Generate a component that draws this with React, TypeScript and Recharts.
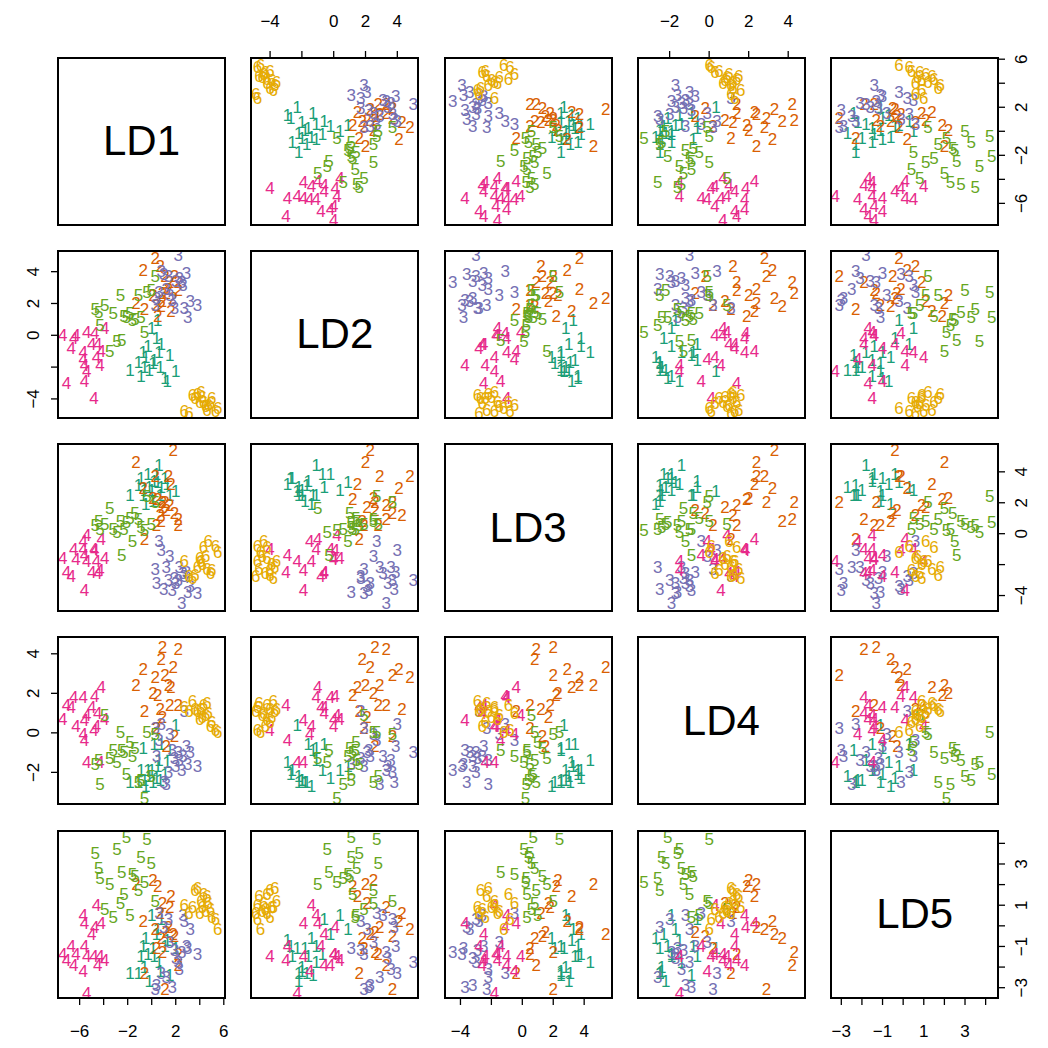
import React from "react";
import { ScatterChart, Scatter, XAxis, YAxis } from "recharts";

const FONT = "'Liberation Sans', Arial, Helvetica, sans-serif";

const varNames = ["LD1", "LD2", "LD3", "LD4", "LD5"];
const groupLabels = ["1", "2", "3", "4", "5", "6"];
const groupColors = ["#1B9E77", "#D95F02", "#7570B3", "#E7298A", "#66A61E", "#E6AB02"];

// each row: LD1, LD2, LD3, LD4, LD5
const group1 = [
  [2.0, -2.3, 2.7, 0.35, -1.1],
  [1.5, -1.3, 2.5, -0.9, -2.4],
  [1.3, -2.9, 3.2, -1.5, -0.7],
  [1.1, -2.7, 3.6, -2.1, -1.0],
  [0.8, -0.6, 3.0, -0.6, 0.3],
  [0.7, -2.0, 2.5, -2.4, -2.2],
  [0.6, -1.1, 4.4, -1.4, -1.8],
  [0.4, -0.2, 3.8, -2.3, -0.4],
  [0.2, -1.6, 3.4, -0.6, -1.5],
  [0.1, -1.8, 2.1, -2.5, -1.1],
  [0.0, 0.4, 2.8, -1.9, 0.5],
  [-0.2, -2.2, 3.0, -2.2, -2.7],
  [-0.3, -0.7, 3.8, -1.9, -1.4],
  [-0.5, -1.4, 1.9, -2.7, -0.6],
  [-0.6, -2.0, 2.8, -2.4, -2.0],
  [-0.7, -1.1, 2.5, -0.8, -1.0],
  [-0.9, -2.6, 3.6, -1.9, -1.5],
  [-1.1, -1.7, 3.1, -2.5, -2.3],
  [-1.8, -2.2, 2.5, -2.5, -2.3],
  [0.5, 0.9, 3.3, -1.7, -0.2],
];

const group2 = [
  [0.9, 2.6, 2.0, 4.3, -1.3],
  [2.2, 3.3, 0.9, 4.2, -1.9],
  [0.8, 1.8, 0.8, 3.7, -0.6],
  [1.8, 2.3, 5.4, 3.3, -0.4],
  [-0.7, 4.1, 2.9, 3.2, 0.2],
  [0.3, 4.8, 3.7, 2.8, -0.2],
  [1.1, 3.7, 2.0, 2.9, -3.1],
  [1.4, 2.9, 3.7, 2.4, -0.1],
  [-1.3, 2.0, 4.6, 2.4, 2.0],
  [1.6, 1.5, 3.2, 2.3, 1.4],
  [0.1, 2.5, 2.3, 2.0, 2.2],
  [0.5, 1.2, 2.2, 1.9, 1.9],
  [1.5, 3.3, 1.8, 1.4, 0.9],
  [0.7, 4.3, 1.2, 1.2, 0.6],
  [0.9, 2.1, 1.7, 0.8, 1.1],
  [2.2, 2.8, 0.5, 1.4, -1.4],
  [0.4, 1.9, 0.5, 0.2, -1.1],
  [1.9, 3.7, 1.3, -0.2, -0.5],
  [-0.6, 1.6, -0.4, 1.1, -2.3],
  [1.2, 2.6, 1.5, -0.7, -0.3],
];

const group3 = [
  [3.8, 1.9, -3.9, -1.7, -1.4],
  [3.0, 1.1, -3.8, -1.6, -1.1],
  [2.7, 1.7, -2.8, 1.1, 0.2],
  [2.2, 5.0, -3.0, -1.0, -1.8],
  [2.3, 3.6, -2.2, -1.4, -2.1],
  [2.5, 3.3, -4.5, -1.9, -1.3],
  [2.6, 3.1, -2.6, -1.2, 0.5],
  [1.7, 2.2, -3.7, -0.9, -3.0],
  [1.5, 2.5, -1.5, -0.1, -0.8],
  [1.2, 2.9, -2.2, -2.6, -2.5],
  [2.0, 3.4, -3.2, -1.7, -1.6],
  [1.0, 3.8, -3.6, -2.5, -0.1],
  [0.8, 4.0, -1.1, 0.4, -2.3],
  [0.6, 2.7, -0.5, -0.4, 0.6],
  [0.3, 1.9, -2.3, 0.2, -3.1],
  [0.4, 2.3, -3.2, -1.2, -2.9],
  [1.4, 3.7, -3.0, -2.0, 0.3],
  [2.9, 3.9, -2.5, -0.7, -1.0],
  [1.9, 1.7, -2.9, -1.3, -1.2],
  [3.2, 2.1, -3.4, -1.0, -0.2],
];

const group4 = [
  [-7.4, 0.0, -1.6, 0.7, -1.4],
  [-7.1, -3.0, -2.5, 1.4, -1.7],
  [-6.7, -0.8, -2.8, 1.3, -1.0],
  [-6.5, -0.2, -1.0, 1.8, -1.9],
  [-6.3, 0.0, -1.7, 0.3, -1.4],
  [-5.7, -1.1, -1.0, 1.8, 0.5],
  [-5.7, -1.5, -0.5, -0.1, -2.2],
  [-5.6, -1.9, -3.7, 0.6, 0.1],
  [-5.6, -2.9, -1.4, -0.4, -1.0],
  [-5.4, 0.2, -0.1, 0.9, -1.5],
  [-5.4, -2.3, -1.8, -1.5, -3.3],
  [-5.0, -0.6, -2.5, 1.3, -0.4],
  [-4.8, -4.0, -1.0, 0.1, -1.5],
  [-4.75, 0.1, -1.1, 1.85, -0.1],
  [-4.6, -1.4, -1.8, 0.3, 1.0],
  [-4.5, -0.6, -2.6, 1.0, -1.9],
  [-4.3, -1.9, -2.4, -1.5, -1.5],
  [-4.2, -1.0, -0.4, 2.3, 0.1],
  [-3.9, 0.4, -1.6, 0.7, -1.7],
];

const group5 = [
  [0.3, 3.7, 2.0, -0.1, 1.2],
  [-0.03, 2.8, 0.6, -2.2, 3.0],
  [-0.4, 2.7, 2.4, 0.0, 4.2],
  [-0.6, 0.2, 0.2, -3.3, 2.1],
  [-0.9, 1.1, 0.4, -2.4, 3.3],
  [-1.1, 2.5, 0.9, -2.5, 1.7],
  [-1.4, 1.0, 1.3, -0.8, 2.4],
  [-1.6, 0.9, -0.5, -1.2, 2.5],
  [-1.8, 1.4, 1.0, -0.5, 0.5],
  [-2.1, 1.1, 0.7, -2.1, 4.3],
  [-2.3, 1.2, 0.3, -1.0, 1.5],
  [-2.5, -0.3, -1.4, -0.9, 2.6],
  [-2.6, 2.5, 0.8, 0.0, 1.1],
  [-2.9, -0.4, 0.1, -1.5, 3.7],
  [-3.2, 1.35, 0.3, -0.9, 0.4],
  [-3.5, -1.0, 1.6, -1.3, 2.0],
  [-3.9, 1.9, 0.6, 0.9, 0.8],
  [-4.3, 0.6, 0.25, -2.6, 2.3],
  [-4.4, 1.45, 0.8, -1.4, 2.8],
  [-4.7, 1.6, 0.5, -1.6, 3.5],
];

const group6 = [
  [5.5, -4.6, -1.2, 0.0, -0.2],
  [5.3, -4.8, -0.8, 0.1, 0.3],
  [5.0, -4.0, -2.4, 0.5, 0.4],
  [4.9, -4.3, -2.6, 0.3, 0.8],
  [4.7, -4.4, -0.5, 1.0, 1.1],
  [4.6, -4.7, -2.3, 1.5, 1.4],
  [4.5, -4.5, -1.5, 0.9, 0.7],
  [4.3, -4.2, -0.9, 1.4, 1.5],
  [4.2, -3.9, -2.0, 0.8, 0.9],
  [4.1, -3.6, -1.8, 1.2, 1.2],
  [4.0, -4.2, -1.6, 0.7, 0.6],
  [3.8, -3.7, -2.2, 1.1, 1.8],
  [3.6, -4.0, -2.7, 1.2, 1.7],
  [3.4, -3.8, -2.9, 1.6, 0.9],
  [3.1, -4.9, -2.8, 1.1, 0.6],
  [2.7, -4.8, -1.8, 1.3, 1.0],
];

const domains = [
  [-7.8, 6.1],
  [-5.2, 5.3],
  [-5.0, 5.8],
  [-3.6, 4.85],
  [-3.5, 4.6],
];
const tickValues = [
  [-6, -4, -2, 0, 2, 4, 6],
  [-4, -2, 0, 2, 4],
  [-4, -2, 0, 2, 4],
  [-2, 0, 2, 4],
  [-3, -2, -1, 0, 1, 2, 3, 4],
];
const tickLabels = [
  [-6, -2, 2, 6],
  [-4, 0, 2, 4],
  [-4, 0, 2, 4],
  [-2, 0, 2, 4],
  [-3, -1, 1, 3],
];

const groups = [group1, group2, group3, group4, group5, group6];
const groupData = groups.map((g) =>
  g.map((r) => ({ LD1: r[0], LD2: r[1], LD3: r[2], LD4: r[3], LD5: r[4] }))
);

const N = 5;
const X0 = 58;
const Y0 = 57.5;
const STEP = 193.3;
const S = 167;
const PAD = 60;
const AX = 40;

const fmt = (v: number) => (v < 0 ? "\u2212" + Math.abs(v) : String(v));

const renderTick = (side: string, labels: number[]) => (props: any) => {
  const { x, y, payload } = props;
  const v = payload.value;
  if (!labels.includes(v)) return <g />;
  const common = {
    fontSize: 17,
    fill: "#000",
    fontFamily: FONT,
    textAnchor: "middle" as const,
    dominantBaseline: "central" as const,
  };
  if (side === "top")
    return (
      <text x={x} y={PAD - 37} {...common}>
        {fmt(v)}
      </text>
    );
  if (side === "bottom")
    return (
      <text x={x} y={PAD + S + 33} {...common}>
        {fmt(v)}
      </text>
    );
  const tx = side === "left" ? PAD - 24 : PAD + S + 24;
  return (
    <text x={tx} y={y} transform={`rotate(-90 ${tx} ${y})`} {...common}>
      {fmt(v)}
    </text>
  );
};

const Panel = ({ i, j }: { i: number; j: number }) => {
  const left = X0 + j * STEP;
  const top = Y0 + i * STEP;
  const showTop = i === 0 && j % 2 === 1;
  const showBottom = i === N - 1 && j % 2 === 0;
  const showLeft = j === 0 && i % 2 === 1;
  const showRight = j === N - 1 && i % 2 === 0;
  const margin = {
    top: showTop ? PAD - AX : PAD,
    bottom: showBottom ? PAD - AX : PAD,
    left: showLeft ? PAD - AX : PAD,
    right: showRight ? PAD - AX : PAD,
  };
  const diag = i === j;

  return (
    <>
      <div style={{ position: "absolute", left: left - PAD, top: top - PAD }}>
        <ScatterChart width={S + 2 * PAD} height={S + 2 * PAD} margin={margin}>
          <XAxis
            type="number"
            dataKey={varNames[j]}
            domain={domains[j]}
            allowDataOverflow
            ticks={tickValues[j]}
            interval={0}
            hide={!(showTop || showBottom)}
            orientation={showTop ? "top" : "bottom"}
            height={AX}
            axisLine={false}
            tickLine={{ stroke: "#000", strokeWidth: 1.3 }}
            tickSize={7}
            tick={renderTick(showTop ? "top" : "bottom", tickLabels[j])}
          />
          <YAxis
            type="number"
            dataKey={varNames[i]}
            domain={domains[i]}
            allowDataOverflow
            ticks={tickValues[i]}
            interval={0}
            hide={!(showLeft || showRight)}
            orientation={showRight ? "right" : "left"}
            width={AX}
            axisLine={false}
            tickLine={{ stroke: "#000", strokeWidth: 1.3 }}
            tickSize={7}
            tick={renderTick(showRight ? "right" : "left", tickLabels[i])}
          />
          {!diag &&
            groupData.map((d, g) => (
              <Scatter
                key={g}
                data={d}
                isAnimationActive={false}
                shape={(p: any) => (
                  <text
                    x={p.cx}
                    y={p.cy}
                    fill={groupColors[g]}
                    fontSize={17}
                    fontFamily={FONT}
                    textAnchor="middle"
                    dominantBaseline="central"
                  >
                    {groupLabels[g]}
                  </text>
                )}
              />
            ))}
        </ScatterChart>
      </div>
      <div
        style={{
          position: "absolute",
          left: left - 1,
          top: top - 1,
          width: S + 2,
          height: S + 2,
          border: "2px solid #000",
          boxSizing: "border-box",
          pointerEvents: "none",
          display: "flex",
          alignItems: "center",
          justifyContent: "center",
          fontFamily: FONT,
          fontSize: 42,
          color: "#000",
        }}
      >
        {diag ? varNames[i] : null}
      </div>
    </>
  );
};

export default function App() {
  const cells: React.ReactNode[] = [];
  for (let i = 0; i < N; i++) {
    for (let j = 0; j < N; j++) {
      cells.push(<Panel key={`${i}-${j}`} i={i} j={j} />);
    }
  }
  return (
    <div
      style={{
        position: "absolute",
        left: 0,
        top: 0,
        width: 1048,
        height: 1048,
        background: "#fff",
        overflow: "hidden",
      }}
    >
      {cells}
    </div>
  );
}
